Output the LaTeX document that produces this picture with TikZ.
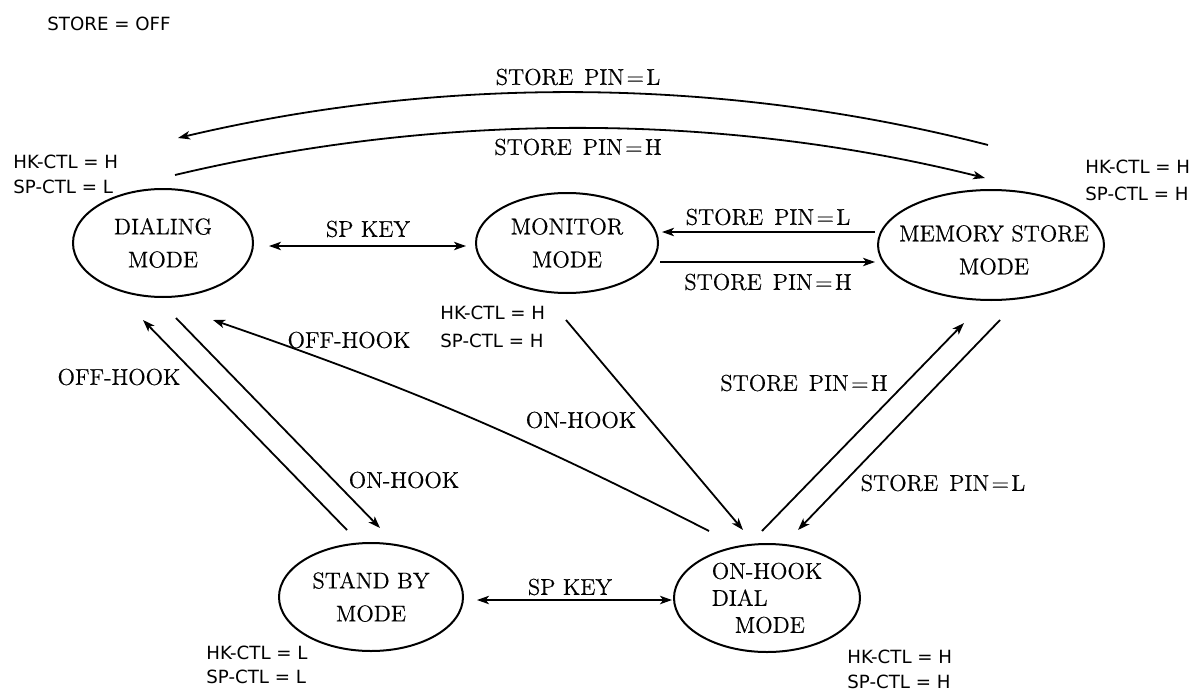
\documentclass[tikz,border=0pt]{standalone}
\usepackage{fontspec}
\newfontfamily\lblsans{DejaVu Sans}
\newfontfamily\serifw{Latin Modern Roman}[FakeBold=0.5]
\usetikzlibrary{shapes.geometric,arrows.meta}
\newcommand{\pin}[1]{STORE\hspace{5.5pt}PIN\kern1.2pt=\kern1.2pt#1}
\begin{document}
\begin{tikzpicture}[x=0.5pt,y=-0.5pt,
  state/.style={draw,ellipse,line width=1pt,inner sep=0pt,align=center,
    font=\serifw\fontsize{11.4}{16.5}\selectfont},
  cond/.style={font=\lblsans\fontsize{9.1}{10}\selectfont,inner sep=0pt,anchor=west},
  lbl/.style={font=\serifw\fontsize{11.4}{13}\selectfont,inner sep=0pt},
  arr/.style={line width=0.9pt,-{Stealth[length=6pt,width=4.2pt,inset=1.6pt]}},
  darr/.style={line width=0.9pt,{Stealth[length=6pt,width=4.2pt,inset=1.6pt]}-{Stealth[length=6pt,width=4.2pt,inset=1.6pt]}}
]
\useasboundingbox (0,0) rectangle (1198,690);

% states
\node[state,minimum width=90pt,minimum height=54pt] (dial) at (163,243) {DIALING\\MODE};
\node[state,minimum width=91pt,minimum height=50pt] (mon) at (567,243) {MONITOR\\MODE};
\node[state,minimum width=113pt,minimum height=55pt] (mem) at (991,245) {};
\node[lbl,align=center,font=\serifw\fontsize{11.4}{16.5}\selectfont] (memtxt) at (994,250) {MEMORY STORE\\MODE};
\node[state,minimum width=92pt,minimum height=54pt] (stby) at (371,597) {STAND BY\\MODE};
\node[state,minimum width=93pt,minimum height=54pt,align=left,font=\serifw\fontsize{11.4}{13.5}\selectfont] (ohd) at (767,598) {ON-HOOK\\DIAL\\\hspace*{11.5pt}MODE};

% conditions
\node[cond] (storeoff) at (47,24) {STORE = OFF};
\node[cond] (c1a) at (13,162) {HK-CTL = H};
\node[cond] (c1b) at (13,187) {SP-CTL = L};
\node[cond] (c2a) at (1085,167) {HK-CTL = H};
\node[cond] (c2b) at (1085,194) {SP-CTL = H};
\node[cond] (c3a) at (440,313) {HK-CTL = H};
\node[cond] (c3b) at (440,341) {SP-CTL = H};
\node[cond] (c4a) at (206,653) {HK-CTL = L};
\node[cond] (c4b) at (206,677) {SP-CTL = L};
\node[cond] (c5a) at (847,657) {HK-CTL = H};
\node[cond] (c5b) at (847,682) {SP-CTL = H};

% end points
\coordinate (memTL) at (988,145);
\coordinate (dialTL) at (178,138);
\coordinate (dialTR) at (175,175);
\coordinate (memTL2) at (985,178);
\coordinate (dialR) at (269,246);
\coordinate (monL) at (466,246);
\coordinate (memL1) at (875,232);
\coordinate (monR1) at (662,232);
\coordinate (monR2) at (660,262);
\coordinate (memL2) at (875,262);
\coordinate (dialB1) at (176,318);
\coordinate (stbyT1) at (380,528);
\coordinate (stbyT2) at (347,530);
\coordinate (dialB2) at (143,320);
\coordinate (ohdT1) at (709,531);
\coordinate (dialB3) at (213,320);
\coordinate (monB) at (566,320);
\coordinate (ohdT2) at (743,530);
\coordinate (ohdT3) at (762,531);
\coordinate (memB1) at (964,323);
\coordinate (memB2) at (1000,320);
\coordinate (ohdT4) at (798,530);
\coordinate (stbyR) at (477,600);
\coordinate (ohdL) at (672,600);

% connectors
\draw[arr] (memTL) .. controls (720,76) and (440,76) .. (dialTL);
\draw[arr] (dialTR) .. controls (440,112) and (720,112) .. (memTL2);
\draw[darr] (dialR) -- (monL);
\draw[arr] (memL1) -- (monR1);
\draw[arr] (monR2) -- (memL2);
\draw[arr] (dialB1) -- (stbyT1);
\draw[arr] (stbyT2) -- (dialB2);
\draw[arr] (ohdT1) to[bend right=4] (dialB3);
\draw[arr] (monB) -- (ohdT2);
\draw[arr] (ohdT3) -- (memB1);
\draw[arr] (memB2) -- (ohdT4);
\draw[darr] (stbyR) -- (ohdL);

% labels
\node[lbl] (l1) at (578,77) {\pin{L}};
\node[lbl] (l2) at (578,147) {\pin{H}};
\node[lbl] (l3) at (368,229) {SP KEY};
\node[lbl] (l4) at (768,217) {\pin{L}};
\node[lbl] (l5) at (768,282) {\pin{H}};
\node[lbl] (l6) at (349,340) {OFF-HOOK};
\node[lbl] (l7) at (119,377) {OFF-HOOK};
\node[lbl] (l8) at (581,420) {ON-HOOK};
\node[lbl] (l9) at (404,480) {ON-HOOK};
\node[lbl] (l10) at (804,383) {\pin{H}};
\node[lbl] (l11) at (943,483) {\pin{L}};
\node[lbl] (l12) at (570,587) {SP KEY};
\end{tikzpicture}
\end{document}
